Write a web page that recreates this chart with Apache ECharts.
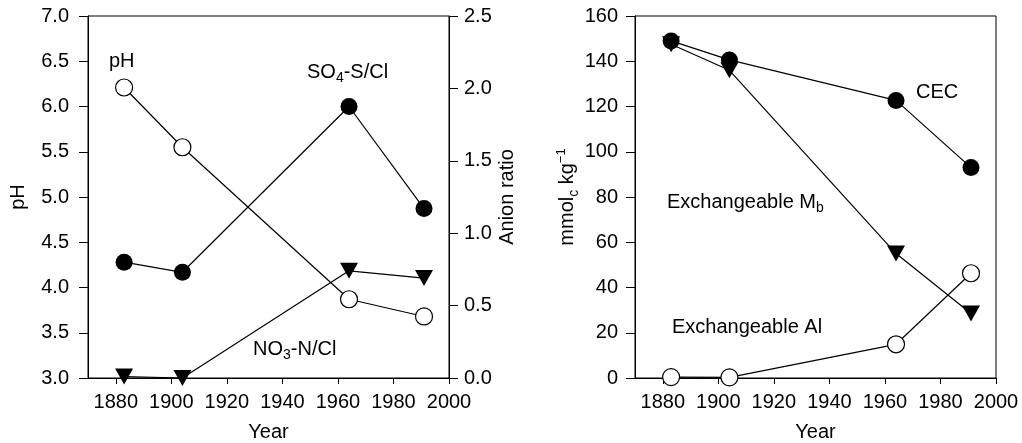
<!DOCTYPE html>
<html>
<head>
<meta charset="utf-8">
<script src="https://cdn.jsdelivr.net/npm/echarts@6/dist/echarts.min.js"></script>
<style>
  html, body { margin: 0; padding: 0; background: #fff; }
  #chart { width: 1022px; height: 443px; }
</style>
</head>
<body>
<div id="chart"></div>
<script>
// sampling years (same for both panels)
var years = [1883, 1904, 1964, 1991];
var yearTicks = [1880, 1900, 1920, 1940, 1960, 1980, 2000];

// left panel
var phValues = [6.21, 5.55, 3.87, 3.68];
var so4Ratio = [0.80, 0.73, 1.875, 1.17];
var no3Ratio = [0.01, 0.0, 0.74, 0.69];

// right panel (mmolc/kg)
var cecValues = [149, 140.6, 122.7, 93];
var mbValues = [147.5, 136, 55, 28.5];
var alValues = [0.4, 0.3, 14.9, 46.3];

var FONT = 'Liberation Sans, Arial, Helvetica, sans-serif';
var FS = 20;

function pairs(vals) {
  return years.map(function (y, i) { return [y, vals[i]]; });
}

// rich styles for sub/superscripts
var rich = {
  n: { fontSize: FS, fontFamily: FONT, color: '#000', lineHeight: 26 },
  s: { fontSize: 14, fontFamily: FONT, color: '#000', lineHeight: 12, verticalAlign: 'bottom' },
  u: { fontSize: 13, fontFamily: FONT, color: '#000', lineHeight: 12, verticalAlign: 'top' }
};

function xAxisCfg(gridIndex) {
  return {
    type: 'value', gridIndex: gridIndex, min: 1870, max: 2000, interval: 10,
    name: 'Year', nameLocation: 'middle', nameGap: 44,
    nameTextStyle: { fontSize: FS, fontFamily: FONT, color: '#000' },
    axisLine: { show: true, lineStyle: { color: '#000', width: 1 } },
    axisTick: { show: true, length: 6, customValues: yearTicks, lineStyle: { color: '#000' } },
    axisLabel: {
      customValues: yearTicks, margin: 14, fontSize: FS, fontFamily: FONT, color: '#000',
      formatter: function (v) { return String(v); }
    },
    splitLine: { show: false }
  };
}

function yAxisCfg(opt) {
  return {
    type: 'value', gridIndex: opt.grid, position: opt.pos,
    min: opt.min, max: opt.max, interval: opt.interval,
    name: opt.name, nameLocation: 'middle', nameGap: opt.gap, nameRotate: 90,
    nameTextStyle: { fontSize: FS, fontFamily: FONT, color: '#000', rich: rich },
    axisLine: { show: true, lineStyle: { color: '#000', width: 1 } },
    axisTick: { show: true, length: 9, lineStyle: { color: '#000' } },
    axisLabel: {
      margin: opt.margin, fontSize: FS, fontFamily: FONT, color: '#000',
      formatter: opt.fmt
    },
    splitLine: { show: false }
  };
}

function oneDecimal(v) { return v.toFixed(1); }
function plain(v) { return String(v); }

var openCircle = { color: '#fff', borderColor: '#000', borderWidth: 1.2 };
var filled = { color: '#000' };
var lineStyle = { color: '#000', width: 1.2 };

function series(data, xi, yi, kind, z) {
  var s = {
    type: 'line', xAxisIndex: xi, yAxisIndex: yi, data: pairs(data),
    symbol: kind === 'tri' ? 'triangle' : 'circle',
    symbolSize: kind === 'tri' ? [18, 16] : 17,
    lineStyle: lineStyle,
    itemStyle: kind === 'open' ? openCircle : filled,
    z: z
  };
  if (kind === 'tri') s.symbolRotate = 180;
  return s;
}

function label(x, y, text) {
  return {
    type: 'text', x: x, y: y,
    style: {
      text: text, rich: rich, fill: '#000',
      font: FS + 'px ' + FONT, align: 'left', verticalAlign: 'middle'
    }
  };
}

var option = {
  animation: false,
  backgroundColor: '#fff',
  grid: [
    { left: 88, top: 16, width: 361, height: 362, outerBoundsMode: 'none', containLabel: false,
      show: true, borderColor: '#000', borderWidth: 1, backgroundColor: 'transparent' },
    { left: 635, top: 16, width: 361, height: 362, outerBoundsMode: 'none', containLabel: false,
      show: true, borderColor: '#000', borderWidth: 1, backgroundColor: 'transparent' }
  ],
  xAxis: [xAxisCfg(0), xAxisCfg(1)],
  yAxis: [
    yAxisCfg({ grid: 0, pos: 'left', min: 3, max: 7, interval: 0.5, name: 'pH', gap: 60, margin: 19, fmt: oneDecimal }),
    yAxisCfg({ grid: 0, pos: 'right', min: 0, max: 2.5, interval: 0.5, name: 'Anion ratio', gap: 48, margin: 15, fmt: oneDecimal }),
    yAxisCfg({ grid: 1, pos: 'left', min: 0, max: 160, interval: 20, name: '{n|mmol}{s|c}{n| kg}{u|\u22121}', gap: 54, margin: 17, fmt: plain })
  ],
  graphic: [
    label(109, 61, 'pH'),
    label(307, 72, '{n|SO}{s|4}{n|-S/Cl}'),
    label(253, 349, '{n|NO}{s|3}{n|-N/Cl}'),
    label(916, 92, 'CEC'),
    label(667, 202, '{n|Exchangeable M}{s|b}'),
    label(672, 327, 'Exchangeable Al')
  ],
  series: [
    series(phValues, 0, 0, 'open', 3),
    series(so4Ratio, 0, 1, 'filled', 4),
    series(no3Ratio, 0, 1, 'tri', 4),
    series(alValues, 1, 2, 'open', 3),
    series(mbValues, 1, 2, 'tri', 4),
    series(cecValues, 1, 2, 'filled', 5)
  ]
};

var chart = echarts.init(document.getElementById('chart'));
chart.setOption(option);
</script>
</body>
</html>
